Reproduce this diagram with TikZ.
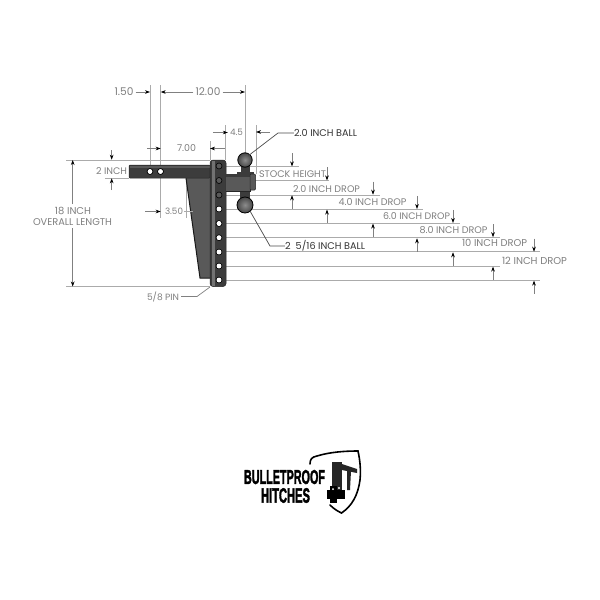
\documentclass[tikz,border=0pt]{standalone}
\usepackage{fontspec}
\usepackage{graphicx}
\setmainfont{Poppins}
\newfontfamily\logofont[BoldFeatures={FakeBold=2.5}]{Liberation Sans}
\usetikzlibrary{arrows.meta}
\definecolor{lblgray}{HTML}{808080}
\definecolor{linegray}{HTML}{ABABAB}
\definecolor{steeldark}{HTML}{3C3C3C}
\definecolor{steelmid}{HTML}{595959}
\definecolor{steellight}{HTML}{727272}
\newcommand{\fitw}[2]{\resizebox{#1pt}{!}{#2}}
\tikzset{
  lbl/.style={inner sep=0pt,text=lblgray,font=\fontsize{9}{9}\selectfont,anchor=center},
  lbldark/.style={inner sep=0pt,text=black!80,font=\fontsize{9}{9}\selectfont,anchor=center},
  extln/.style={draw=linegray,line width=0.7pt},
  dimln/.style={draw=black!50,line width=0.6pt,-{Stealth[length=5pt,width=3.6pt,color=black]}},
  leader/.style={draw=black!70,line width=0.7pt},
  steel/.style={fill=steeldark,draw=black!85,line width=0.5pt},
  logotxt/.style={inner sep=0pt,font=\logofont\bfseries,text=black,anchor=center}
}
\begin{document}
\begin{tikzpicture}[x=1pt,y=-1pt]
\useasboundingbox (0,0) rectangle (600,600);
\fill[white] (0,0) rectangle (600,600);
% extension lines, left and top
\draw[extln] (66,160) -- (210,160);
\draw[extln] (66,286.5) -- (210,286.5);
\draw[extln] (105,178) -- (129,178);
\draw[extln] (150,85) -- (150,165);
\draw[extln] (160.7,85) -- (160.7,165);
\draw[extln] (160.7,178) -- (160.7,218);
\draw[extln] (186,178) -- (186,218);
\draw[extln] (245,85) -- (245,153);
\draw[extln] (225,125) -- (225,160);
\draw[extln] (256,125) -- (256,174);
\draw[extln] (210,141) -- (210,160);
% extension lines, right
\foreach \yy/\xe in {166.7/299,180.7/329,195/380,209.3/423,223.3/460,237.5/500,251.8/540,266.2/500,280.3/540}
  \draw[extln] (226,\yy) -- (\xe,\yy);
% gusset
\fill[steelmid] (186,178) -- (210,178) -- (210,278) -- (200,278) -- cycle;
\draw[black!90,line width=1pt] (186,178) -- (200,278) -- (210,278);
% shank
\draw[steel,rounded corners=1pt] (129,165) rectangle (210,178);
\fill[steelmid] (130,166) rectangle (210,168);
\fill[white] (150,171.5) circle[radius=2.6];
\fill[white] (160.5,171.5) circle[radius=2.6];
\draw[black,line width=0.6pt] (150,171.5) circle[radius=3];
\draw[black,line width=0.6pt] (160.5,171.5) circle[radius=3];
% upright
\draw[fill=steeldark,draw=black!85,line width=0.5pt,rounded corners=3pt] (210,160) -- (226,160) -- (226,286.5) -- (210,286.5) -- cycle;
\fill[steellight] (212,161) rectangle (214.5,285.5);
\foreach \yy in {166,180.5,195} {
  \fill[steelmid] (219,\yy) circle[radius=3];
  \draw[black,line width=0.6pt] (219,\yy) circle[radius=3];
}
\foreach \yy in {209,223.5,237.7,252,266,280} {
  \fill[white] (219,\yy) circle[radius=2.6];
  \draw[black,line width=0.5pt] (219,\yy) circle[radius=3];
}
% necks and balls
\fill[steeldark] (241,166) rectangle (250,174);
\fill[steeldark] (237,171.5) rectangle (254,175);
\fill[steeldark] (240,190) rectangle (250,198);
\shade[inner color=black!45,outer color=black!72] (245,160) circle[radius=7.2];
\draw[black,line width=0.8pt] (245,160) circle[radius=7.2];
\shade[inner color=black!45,outer color=black!72] (245,205) circle[radius=8];
\draw[black,line width=0.8pt] (245,205) circle[radius=8];
% arm
\fill[steelmid] (226,174) rectangle (250,191.5);
\draw[black!85,line width=0.6pt] (226,174) -- (250,174) -- (250,191.5) -- (226,191.5);
\fill[steeldark] (226,174) rectangle (250,176.5);
\draw[steel,fill=steelmid,rounded corners=1pt] (250,174) rectangle (255.5,190);
% dimension arrows across the drops
\foreach \xx/\ya/\yb in {292/166.7/195,327/180.7/209.3,373/195/223.3,417/209.3/238,453/223.3/252,493/237.5/266.3,534/252/280.3} {
  \draw[dimln] (\xx,\ya-13.5) -- (\xx,\ya-0.3);
  \draw[dimln] (\xx,\yb+13.5) -- (\xx,\yb+0.3);
}
% top and left dimensions
\node[lbl] (d150) at (124,92) {\fitw{19}{1.50}};
\node[lbl] (d1200) at (208,92) {\fitw{25}{12.00}};
\node[lbl] (d45) at (236.5,132.5) {\fitw{13}{4.5}};
\node[lbl] (d700) at (186.5,148.5) {\fitw{19}{7.00}};
\node[lbl] (d350) at (174,211.5) {\fitw{18}{3.50}};
\node[lbl] (d2in) at (111.5,171.5) {\fitw{31}{2 INCH}};
\node[lbl] (dov1) at (73,211) {\fitw{36}{18 INCH}};
\node[lbl] (dov2) at (72.5,222) {\fitw{79}{OVERALL LENGTH}};
\node[lbl] (dpin) at (163,296.5) {\fitw{32}{5/8 PIN}};
\coordinate (t150) at (150,92);
\coordinate (t161) at (160.7,92);
\coordinate (t245) at (245,92);
\draw[dimln] (d150.east)++(2,0) -- (t150);
\draw[dimln] (d1200.west)++(-2,0) -- (t161);
\draw[dimln] (d1200.east)++(2,0) -- (t245);
\draw[dimln] (d45.west)++(-17,0) -- +(15,0);
\draw[dimln] (270,132) -- (256,132);
\draw[dimln] (147,148.5) -- (160.7,148.5);
\draw[dimln] (225,148.5) -- (210,148.5);
\draw[dimln] (145,211.5) -- (160.7,211.5);
\draw[extln] (d350.east)++(1,0) -- (193,211.5);
\draw[dimln] (111.7,150) -- (111.7,159.7);
\draw[dimln] (111.7,190) -- (111.7,178.3);
\coordinate (ovtop) at (72.7,160);
\coordinate (ovbot) at (72.7,286.5);
\draw[dimln] (72.7,204) -- (ovtop);
\draw[dimln] (72.7,228) -- (ovbot);
\draw[leader,draw=black!50] (dpin.east)++(2,0) -- (197,296.5) -- (210,287);
% drop labels
\node[lbl] (ls) at (292.5,174) {\fitw{67}{STOCK HEIGHT}};
\node[lbl] (l2) at (326.5,189) {\fitw{67}{2.0 INCH DROP}};
\node[lbl] (l4) at (372.5,202) {\fitw{68}{4.0 INCH DROP}};
\node[lbl] (l6) at (416.5,216) {\fitw{67}{6.0 INCH DROP}};
\node[lbl] (l8) at (453.5,230) {\fitw{68}{8.0 INCH DROP}};
\node[lbl] (l10) at (494.5,243) {\fitw{65}{10 INCH DROP}};
\node[lbl] (l12) at (534.5,261) {\fitw{65}{12 INCH DROP}};
% ball callouts
\node[lbldark] (b20) at (325.5,133) {\fitw{63}{2.0 INCH BALL}};
\node[lbldark] (b25) at (325,246) {\fitw{80}{2\ \ 5/16 INCH BALL}};
\coordinate (ballA) at (248,156);
\coordinate (ballB) at (250,211);
\draw[leader] (ballA) -- (278,133) -- (b20.west);
\draw[leader] (ballB) -- (270,246) -- (b25.west);
% logo
\node[logotxt] (lga) at (284.5,477) {\resizebox{81pt}{14pt}{BULLETPROOF}};
\node[logotxt] (lgb) at (285.5,495.5) {\resizebox{49pt}{14.5pt}{HITCHES}};
\draw[black,line width=1.6pt,line cap=round] (310,464) .. controls (310,459) and (312,457) .. (317,456)
  .. controls (330,452) and (345,451) .. (358,451)
  .. controls (360,460) and (361,470) .. (360,480)
  .. controls (358,495) and (352,506) .. (341.5,513)
  .. controls (337,511) and (333,508) .. (330,505);
\fill[black!85] (332,462) rectangle (342,498);
\fill[black!85] (342,464) -- (357,469) -- (357,473) -- (342,470) -- cycle;
\fill[black!85] (347,471) -- (351,471) -- (350,490) -- (347,490) -- cycle;
\fill[black] (327,490) rectangle (345,499);
\fill[black] (330,486) rectangle (337,503);
\fill[white] (339,488) circle[radius=1.2];
\fill[white] (333,489) circle[radius=1];
\end{tikzpicture}
\end{document}
